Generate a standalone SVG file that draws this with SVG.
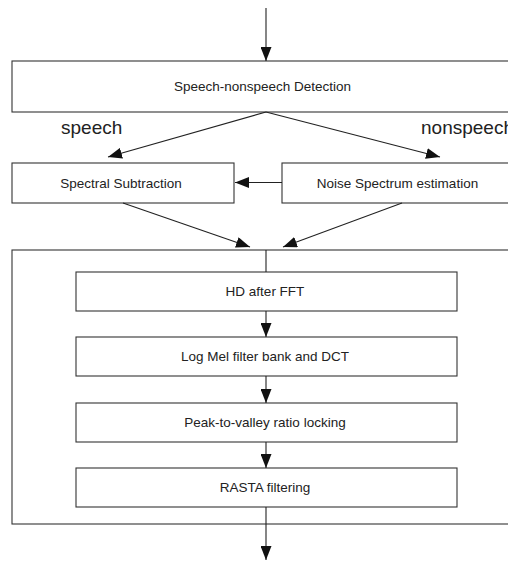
<svg xmlns="http://www.w3.org/2000/svg" width="508" height="561" viewBox="0 0 508 561">
<style>
.box{fill:#fff;stroke:#333;stroke-width:1.1}
.t{font-family:"Liberation Sans",Arial,sans-serif;font-size:13.5px;fill:#222;text-anchor:middle}
.lbl{font-family:"Liberation Sans",Arial,sans-serif;font-size:19px;fill:#222}
.c{stroke:#222;stroke-width:1.1;fill:none}
.a{marker-end:url(#ah)}
</style>
<defs>
<marker id="ah" markerUnits="userSpaceOnUse" markerWidth="14" markerHeight="11" refX="14" refY="5.5" orient="auto" viewBox="0 0 14 11">
<path d="M0,0 L14,5.5 L0,11 z" fill="#111"/>
</marker>
</defs>
<rect width="508" height="561" fill="#fff"/>
<g id="container"><rect class="box" x="12" y="250" width="510" height="274"/></g>
<g id="detect"><rect class="box" x="12" y="61" width="510" height="51"/><text class="t" x="262.5" y="90.5">Speech-nonspeech Detection</text></g>
<g id="lbl-speech"><text class="lbl" x="61" y="134">speech</text></g>
<g id="lbl-nonspeech"><text class="lbl" x="421" y="134">nonspeech</text></g>
<g id="spectral"><rect class="box" x="12" y="163" width="222" height="40"/><text class="t" x="121" y="188">Spectral Subtraction</text></g>
<g id="noise"><rect class="box" x="282" y="163" width="240" height="40"/><text class="t" x="397.5" y="188">Noise Spectrum estimation</text></g>
<g id="hd"><rect class="box" x="76" y="272" width="381" height="39"/><text class="t" x="265" y="296">HD after FFT</text></g>
<g id="logmel"><rect class="box" x="76" y="337" width="381" height="39"/><text class="t" x="265" y="361">Log Mel filter bank and DCT</text></g>
<g id="peak"><rect class="box" x="76" y="403" width="381" height="39"/><text class="t" x="265" y="426.5">Peak-to-valley ratio locking</text></g>
<g id="rasta"><rect class="box" x="76" y="468" width="381" height="39"/><text class="t" x="265" y="492">RASTA filtering</text></g>
<g id="connectors">
<line class="c a" x1="266" y1="8" x2="266" y2="61"/>
<line class="c a" x1="266" y1="112" x2="108" y2="157"/>
<line class="c a" x1="266" y1="112" x2="440" y2="157"/>
<line class="c a" x1="282" y1="182.5" x2="235" y2="182.5"/>
<line class="c a" x1="123" y1="203" x2="250" y2="247"/>
<line class="c a" x1="402" y1="203" x2="283" y2="247"/>
<line class="c" x1="266" y1="250" x2="266" y2="272"/>
<line class="c a" x1="266" y1="311" x2="266" y2="337"/>
<line class="c a" x1="266" y1="376" x2="266" y2="403"/>
<line class="c a" x1="266" y1="442" x2="266" y2="468"/>
<line class="c" x1="266" y1="507" x2="266" y2="524"/>
<line class="c a" x1="266" y1="524" x2="266" y2="560"/>
</g>
</svg>
